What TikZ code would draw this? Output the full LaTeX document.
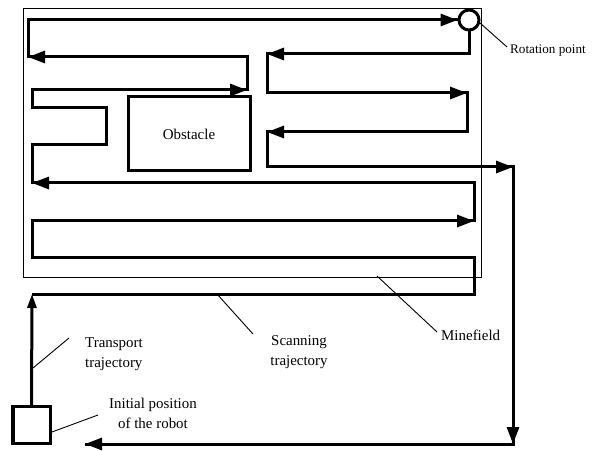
\documentclass[tikz,border=0pt]{standalone}
\usepackage{fontspec}
\setmainfont{Liberation Serif}
\usetikzlibrary{arrows.meta}

\tikzset{
  trackline/.style={line width=3bp, line join=miter, line cap=butt},
  tip/.style={trackline, -{Triangle[length=17bp,width=12bp]}},
  smalltip/.style={trackline, -{Triangle[length=14bp,width=9bp]}},
  thickbox/.style={draw, line width=3bp, inner sep=0pt},
  leader/.style={line width=0.9bp},
  lbl/.style={font=\fontsize{15}{20}\selectfont, inner sep=1bp}
}

\begin{document}
\begin{tikzpicture}[x=1bp, y=-1bp]
  \useasboundingbox (0,0) rectangle (595,451);

  % minefield border
  \node[draw, line width=1bp, minimum width=457bp, minimum height=268bp, inner sep=0pt]
    (field) at (252.5,143) {};

  % obstacle
  \node[thickbox, minimum width=122bp, minimum height=74bp, lbl]
    (obst) at (189,134) {Obstacle};

  % robot at its initial position
  \node[thickbox, minimum size=37bp] (robot) at (31.5,425) {};

  % corners of the scanning trajectory
  \coordinate (s0) at (32,294);
  \coordinate (s1) at (474,294);
  \coordinate (s2) at (474,258);
  \coordinate (s3) at (32,258);
  \coordinate (s4) at (32,221);
  \coordinate (s5) at (474,221);
  \coordinate (s6) at (474,183);
  \coordinate (s7) at (32,183);
  \coordinate (s8) at (32,145);
  \coordinate (s9) at (106,145);
  \coordinate (s10) at (106,108);
  \coordinate (s11) at (32,108);
  \coordinate (s12) at (32,90);
  \coordinate (s13) at (247,90);
  \coordinate (s14) at (247,57);
  \coordinate (s15) at (28,57);
  \coordinate (s16) at (28,20);

  % rotation point
  \node[circle, draw, line width=3bp, fill=white, minimum size=20bp, inner sep=0pt]
    (rot) at (469,20) {};

  \coordinate (r1) at (469,54);
  \coordinate (r2) at (267,54);
  \coordinate (r3) at (267,93);
  \coordinate (r4) at (467,93);
  \coordinate (r5) at (467,132);
  \coordinate (r6) at (267,132);
  \coordinate (r7) at (267,167);
  \coordinate (r8) at (513,167);
  \coordinate (r9) at (513,444);
  \coordinate (r10) at (85,444);

  % transport trajectory from the robot
  \draw[smalltip] (robot.north) -- (s0);

  % scanning trajectory, first half
  \draw[trackline] (s0) -- (s1) -- (s2) -- (s3) -- (s4) -- (s5) -- (s6) -- (s7)
    -- (s8) -- (s9) -- (s10) -- (s11) -- (s12) -- (s13) -- (s14) -- (s15) -- (s16)
    -- (rot.west);
  \draw[tip] (s4) -- (s5);
  \draw[tip] (s6) -- (s7);
  \draw[tip] (s12) -- (s13);
  \draw[tip] (s14) -- (s15);
  \draw[tip] (s16) -- (rot.west);

  % second half and return
  \draw[trackline] (rot.south) -- (r1) -- (r2) -- (r3) -- (r4) -- (r5) -- (r6)
    -- (r7) -- (r8) -- (r9) -- (r10);
  \draw[tip] (r1) -- (r2);
  \draw[tip] (r3) -- (r4);
  \draw[tip] (r5) -- (r6);
  \draw[tip] (r7) -- (r8);
  \draw[tip] (r8) -- (r9);
  \draw[tip] (r9) -- (r10);

  % labels
  \node[lbl, font=\fontsize{13.2}{16}\selectfont, anchor=west] (rotlbl) at (509,51) {Rotation point};
  \node[lbl, anchor=west] (fieldlbl) at (440,335) {Minefield};
  \node[lbl, align=center] (scanlbl) at (299,352) {Scanning\\trajectory};
  \node[lbl, align=left, anchor=west] (translbl) at (84,354) {Transport\\trajectory};
  \node[lbl, align=center] (initlbl) at (153,413) {Initial position\\of the robot};

  % leader lines
  \coordinate (lr) at (480,23);
  \coordinate (lm) at (377,276);
  \coordinate (ls) at (217,294);
  \coordinate (lt) at (33,368);
  \coordinate (li) at (52,432);
  \draw[leader] (lr) -- (507,47);
  \draw[leader] (lm) -- (437,332);
  \draw[leader] (ls) -- (253,334);
  \draw[leader] (lt) -- (69,338);
  \draw[leader] (li) -- (98,415);
\end{tikzpicture}
\end{document}
